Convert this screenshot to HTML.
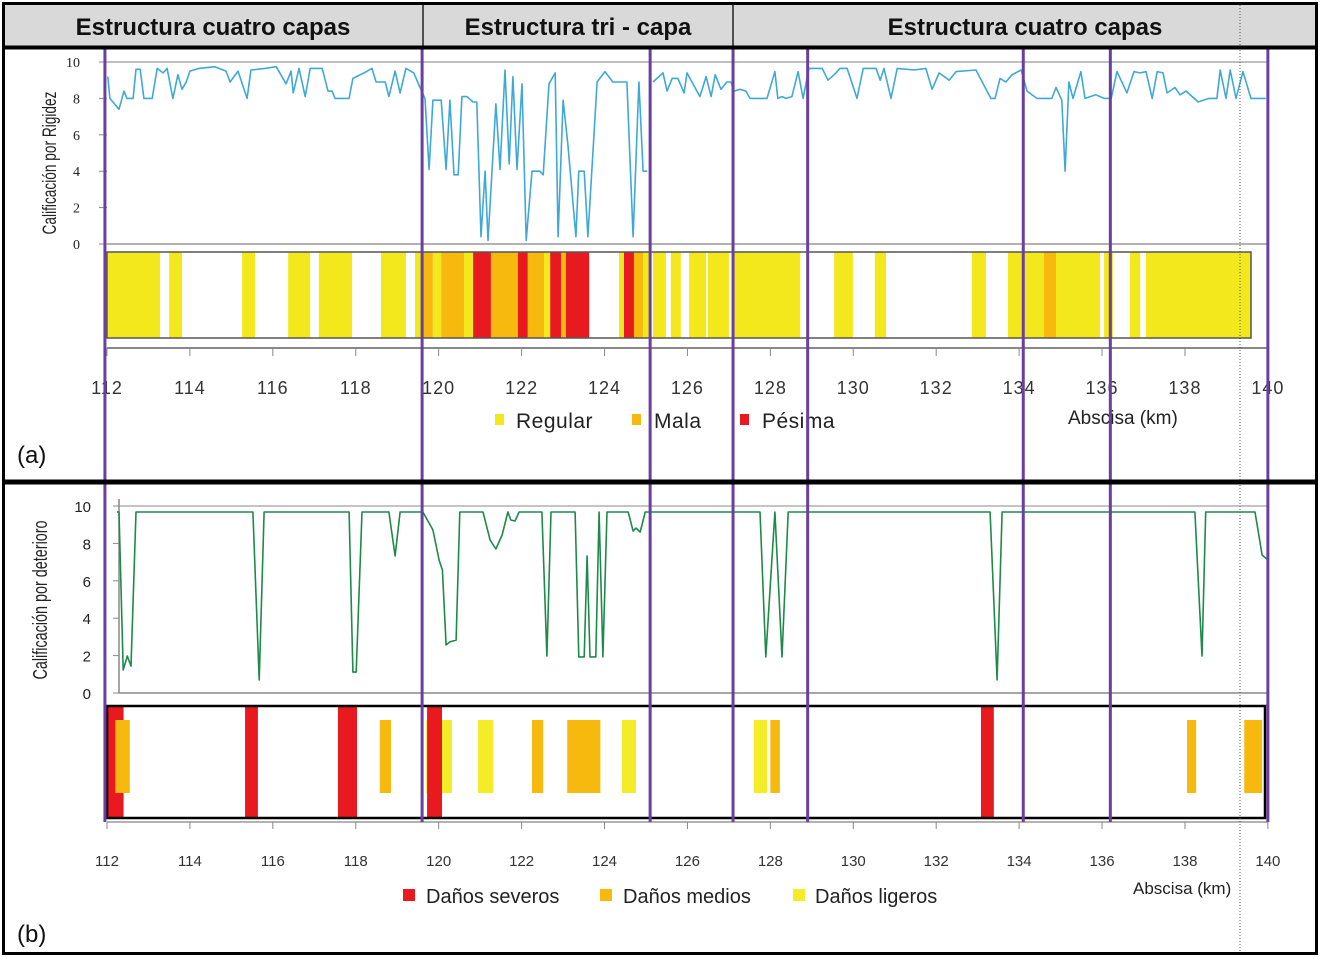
<!DOCTYPE html>
<html><head><meta charset="utf-8"><style>
body{margin:0;background:#fff;}
svg{display:block;font-family:"Liberation Sans",sans-serif;}
</style></head><body>
<svg id="c" width="1322" height="957" viewBox="0 0 1322 957">
<rect x="0" y="0" width="1322" height="957" fill="#fff"/>
<rect x="5" y="5" width="1311" height="42" fill="#d9d9d9"/>
<line x1="423" y1="5" x2="423" y2="47" stroke="#222" stroke-width="1.5"/>
<line x1="733" y1="5" x2="733" y2="47" stroke="#222" stroke-width="1.5"/>
<g font-weight="bold" font-size="24" text-anchor="middle" fill="#111">
<text x="213" y="35">Estructura cuatro capas</text>
<text x="578" y="35">Estructura tri - capa</text>
<text x="1025" y="35">Estructura cuatro capas</text>
</g>
<g id="gA"></g>
<g id="gB"></g>
<g id="vl"></g>
<line x1="1240" y1="5" x2="1240" y2="953" stroke="#555" stroke-width="1" stroke-dasharray="1,2"/>
<rect x="3.5" y="3.5" width="1313" height="950" fill="none" stroke="#000" stroke-width="3"/>
<line x1="3" y1="47.5" x2="1316" y2="47.5" stroke="#000" stroke-width="4"/>
<line x1="3" y1="482" x2="1316" y2="482" stroke="#000" stroke-width="5"/>
</svg>
<script>
// ---------- Panel (a) data ----------
const rigKm = [112.02,112.07,112.29,112.41,112.48,112.63,112.70,112.80,112.89,113.09,113.21,113.35,113.45,113.59,113.71,113.81,113.91,114.00,114.22,114.60,114.87,114.97,115.16,115.38,115.47,115.81,116.08,116.32,116.44,116.49,116.63,116.78,116.90,117.19,117.33,117.43,117.50,117.84,117.93,118.20,118.39,118.49,118.71,118.80,118.95,119.07,119.21,119.40,119.55,
119.67,119.77,119.86,120.06,120.18,120.27,120.37,120.47,120.56,120.68,120.83,120.92,121.02,121.12,121.19,121.38,121.48,121.60,121.70,121.79,121.89,122.01,122.11,122.25,122.44,122.52,122.66,122.81,122.88,123.00,123.12,123.31,123.38,123.51,123.60,123.82,124.01,124.20,124.54,124.69,124.83,124.93,125.03];
const rigVal = [9.2,8.0,7.4,8.4,8.0,8.0,9.6,9.6,8.0,8.0,9.65,9.4,9.65,8.0,9.3,8.5,8.9,9.5,9.65,9.74,9.5,8.9,9.5,8.0,9.56,9.65,9.74,8.8,9.5,8.3,9.65,8.1,9.65,9.65,8.4,8.4,8.0,8.0,9.1,9.4,9.65,8.9,8.9,8.1,9.5,8.3,9.65,9.4,8.6,
8.0,4.1,7.9,7.9,4.1,7.9,3.8,3.8,8.1,8.1,7.8,7.8,0.4,4.0,0.2,7.7,4.1,9.56,4.4,9.2,4.1,8.8,0.2,4.0,4.0,3.8,8.8,9.4,0.4,7.9,5.4,0.4,4.0,4.0,0.4,8.9,9.47,8.9,8.9,0.4,8.9,4.0,4.0];
const rigKm2 = [125.17,125.41,125.51,125.63,125.77,125.92,125.99,126.30,126.45,126.57,126.67,126.81,126.95,127.05,127.12,127.27,127.41,127.51,127.92,128.11,128.18,128.28,128.38,128.52,128.67,128.79,128.93,129.25,129.39,129.54,129.68,129.85,130.09,130.24,130.55,130.65,130.74,130.91,131.06,131.47,131.75,131.90,132.07,132.31,132.48,132.96,133.18,133.32,133.42,133.54,133.68,133.83,134.05,134.19,134.43,134.79,134.89,135.03,135.11,135.20,135.30,135.49,135.59,135.85,136.05,136.22,136.36,136.60,136.77,136.92,137.06,137.21,137.33,137.47,137.57,137.76,137.88,138.03,138.32,138.58,138.77,138.85,138.99,139.09,139.23,139.40,139.59,139.95];
const rigVal2 = [8.9,9.4,8.4,9.1,9.1,8.3,9.4,8.1,9.2,8.1,9.3,8.5,8.9,8.9,8.4,8.5,8.4,8.0,8.0,9.47,8.0,8.1,8.0,8.1,9.47,8.0,9.65,9.65,9.0,9.3,9.65,9.65,8.0,9.65,9.65,9.0,9.65,8.0,9.65,9.56,9.65,8.5,9.4,9.0,9.47,9.56,8.6,8.0,8.0,9.1,8.9,9.3,9.56,8.4,8.0,8.0,8.6,7.9,4.0,8.9,8.0,9.47,8.0,8.2,8.0,8.0,9.47,8.3,9.47,9.4,9.47,8.0,9.47,9.4,8.3,8.6,8.2,8.4,7.8,8.0,8.0,9.56,8.0,9.56,8.0,9.47,8.0,8.0];
// Rating strip (a): start km, end km, class (0 Regular, 1 Mala, 2 Pésima)
const stripAStart = [112.02,113.50,115.26,116.37,117.11,118.61,119.43,119.62,119.86,120.06,120.61,120.83,121.26,121.91,122.15,122.54,122.69,122.95,123.07,124.35,124.47,124.71,124.93,125.17,125.60,126.04,126.49,127.10,129.54,130.52,132.86,133.73,134.60,134.89,136.05,136.67,137.06];
const stripAEnd   = [113.28,113.81,115.57,116.90,117.91,119.21,119.57,119.86,120.06,120.61,120.83,121.26,121.91,122.15,122.54,122.69,122.95,123.07,123.63,124.47,124.71,124.93,125.07,125.48,125.84,126.45,127.00,128.72,129.99,130.79,133.20,134.60,134.89,135.95,136.26,136.92,139.59];
const stripAClass = [0,0,0,0,0,0,0,1,0,1,0,2,1,2,1,0,2,1,2,0,2,1,0,0,0,0,0,0,0,0,0,0,1,0,0,0,0];
// ---------- Panel (b) data ----------
const detKm = [112.29,112.39,112.49,112.58,112.70,115.52,115.67,115.79,117.84,117.93,118.01,118.15,118.80,118.95,119.07,119.62,119.86,120.01,120.09,120.18,120.27,120.42,120.51,121.07,121.24,121.38,121.53,121.67,121.74,121.84,121.94,122.49,122.61,122.71,123.29,123.38,123.51,123.58,123.65,123.79,123.87,123.96,124.06,124.57,124.69,124.76,124.86,124.98,127.75,127.89,128.11,128.28,128.43,133.30,133.47,133.59,138.24,138.41,138.50,139.69,139.86,140.0];
const detVal = [9.68,1.23,1.98,1.44,9.68,9.68,0.7,9.68,9.68,1.12,1.12,9.68,9.68,7.33,9.68,9.68,8.72,7.11,6.58,2.57,2.73,2.83,9.68,9.68,8.18,7.7,8.45,9.68,9.25,9.2,9.68,9.68,1.98,9.68,9.68,1.93,1.93,7.33,1.93,1.93,9.68,1.93,9.68,9.68,8.66,8.82,8.61,9.68,9.68,1.93,9.68,1.93,9.68,9.68,0.7,9.68,9.68,1.98,9.68,9.68,7.38,7.11];
// Damage strip (b): class 0 ligeros, 1 medios, 2 severos
const stripBStart = [112.00,112.20,115.33,117.57,118.58,119.70,119.72,120.08,120.95,122.25,123.10,124.42,127.60,128.00,133.08,138.05,139.43];
const stripBEnd   = [112.40,112.55,115.64,118.03,118.85,119.98,120.08,120.32,121.31,122.52,123.90,124.76,127.92,128.23,133.39,138.27,139.86];
const stripBClass = [2,1,2,2,1,0,2,0,0,1,1,0,0,1,2,1,1];
const xTicks = [112,114,116,118,120,122,124,126,128,130,132,134,136,138,140];
const yTicks = [0,2,4,6,8,10];
const sectionKm = [111.95,119.6,125.1,127.1,128.9,134.1,136.2,140.0];

const NS='http://www.w3.org/2000/svg';
function mk(parent,tag,attrs,txt){const e=document.createElementNS(NS,tag);for(const k in attrs)e.setAttribute(k,attrs[k]);if(txt!==undefined)e.textContent=txt;parent.appendChild(e);return e;}
const xS = k => 107 + (k-112)*41.46;
const yA = v => 244 - v*18.2;
const yB = v => 693 - v*18.7;
const colA = ['#f2e81c','#f7b90d','#e8191f'];
const colB = ['#f4ec27','#f7b90d','#e8191f'];
const gA=document.getElementById('gA'), gB=document.getElementById('gB'), vl=document.getElementById('vl');

// ---- Panel A ----
let e;
e=mk(gA,'line',{x1:107,y1:62,x2:1268,y2:62,stroke:'#aaa','stroke-width':1.5});


e=mk(gA,'line',{x1:107,y1:244,x2:1268,y2:244,stroke:'#999','stroke-width':1.5});


yTicks.forEach(v=>{
  e=mk(gA,'text',{x:80,y:yA(v)+5,'font-size':14,'text-anchor':'end',fill:'#222','font-family':'Liberation Serif, serif'},String(v));
  
  
  mk(gA,'line',{x1:99,y1:yA(v),x2:107,y2:yA(v),stroke:'#888'});
});
e=mk(gA,'text',{transform:'translate(56,163) rotate(-90) scale(0.72,1)','font-size':19,'text-anchor':'middle',fill:'#222'},'Calificación por Rigidez');


function path(xs,ys,ysc){return xs.map((k,i)=>(i?'L':'M')+xS(k).toFixed(1)+','+ysc(ys[i]).toFixed(1)).join(' ');}
e=mk(gA,'path',{d:path(rigKm,rigVal,yA),fill:'none',stroke:'#3fa9d6','stroke-width':1.6,'stroke-linejoin':'round'});


e=mk(gA,'path',{d:path(rigKm2,rigVal2,yA),fill:'none',stroke:'#3fa9d6','stroke-width':1.6,'stroke-linejoin':'round'});


stripAStart.forEach((s,i)=>{
  e=mk(gA,'rect',{x:xS(s),y:252,width:xS(stripAEnd[i])-xS(s),height:86,fill:colA[stripAClass[i]]});
  
  
});
e=mk(gA,'rect',{x:107,y:252,width:1144,height:86,fill:'none',stroke:'#555','stroke-width':1.5});


e=mk(gA,'line',{x1:107,y1:348,x2:1268,y2:348,stroke:'#888','stroke-width':2});


xTicks.forEach(k=>{
  mk(gA,'line',{x1:xS(k),y1:348,x2:xS(k),y2:356,stroke:'#888'});
  e=mk(gA,'text',{x:xS(k),y:394,'font-size':18,'text-anchor':'middle',fill:'#333','letter-spacing':'1'},String(k));
  
  
});
const legA=[['Regular',500,516],['Mala',637,654],['Pésima',745,762]];
legA.forEach((l,i)=>{
  e=mk(gA,'rect',{x:l[1]-5,y:414,width:9,height:11,fill:colA[i]});
  
  
  e=mk(gA,'text',{x:l[2],y:428,'font-size':21,fill:'#222','letter-spacing':'0.5'},l[0]);
  
  
});
e=mk(gA,'text',{x:1068,y:424,'font-size':19,fill:'#222'},'Abscisa (km)');


e=mk(gA,'text',{x:17,y:463,'font-size':24,fill:'#111'},'(a)');



// ---- Panel B ----
e=mk(gB,'line',{x1:119,y1:499,x2:119,y2:693,stroke:'#888','stroke-width':1.5});


e=mk(gB,'line',{x1:119,y1:506,x2:1268,y2:506,stroke:'#888','stroke-width':1});


e=mk(gB,'line',{x1:119,y1:693,x2:1268,y2:693,stroke:'#888','stroke-width':1.5});


yTicks.forEach(v=>{
  e=mk(gB,'text',{x:91,y:yB(v)+6,'font-size':15,'text-anchor':'end',fill:'#222'},String(v));
  
  
  mk(gB,'line',{x1:113,y1:yB(v),x2:119,y2:yB(v),stroke:'#888'});
});
e=mk(gB,'text',{transform:'translate(47,600) rotate(-90) scale(0.72,1)','font-size':20,'text-anchor':'middle',fill:'#222'},'Calificación por deterioro');


e=mk(gB,'path',{d:'M'+xS(112.24).toFixed(1)+','+yB(9.68)+' '+path(detKm,detVal,yB).replace(/^M/,'L'),fill:'none',stroke:'#1e8a4a','stroke-width':1.6,'stroke-linejoin':'round'});


stripBStart.forEach((s,i)=>{
  const c=stripBClass[i];
  const y=c===2?706:720, h=c===2?112:73;
  e=mk(gB,'rect',{x:xS(s),y:y,width:xS(stripBEnd[i])-xS(s),height:h,fill:colB[c]});
  
  
});
e=mk(gB,'rect',{x:107,y:706,width:1158,height:112,fill:'none',stroke:'#000','stroke-width':2.5});


e=mk(gB,'line',{x1:107,y1:822,x2:1268,y2:822,stroke:'#999','stroke-width':1.5});


xTicks.forEach(k=>{
  mk(gB,'line',{x1:xS(k),y1:822,x2:xS(k),y2:829,stroke:'#888'});
  e=mk(gB,'text',{x:xS(k),y:866,'font-size':15,'text-anchor':'middle',fill:'#333'},String(k));
  
  
});
const legB=[['Daños severos',409,426,2],['Daños medios',606,623,1],['Daños ligeros',799,815,0]];
legB.forEach((l,i)=>{
  e=mk(gB,'rect',{x:l[1]-6,y:889,width:12,height:12,fill:colB[l[3]]});
  
  
  e=mk(gB,'text',{x:l[2],y:903,'font-size':20,fill:'#222'},l[0]);
  
  
});
e=mk(gB,'text',{x:1133,y:894,'font-size':17,fill:'#222'},'Abscisa (km)');


e=mk(gB,'text',{x:17,y:942,'font-size':24,fill:'#111'},'(b)');



// ---- Section boundary lines ----
sectionKm.forEach((k,i)=>{
  e=mk(vl,'line',{x1:xS(k),y1:47,x2:xS(k),y2:822,stroke:'#6a3fa0','stroke-width':3});
  
  
});
</script>
</body></html>
